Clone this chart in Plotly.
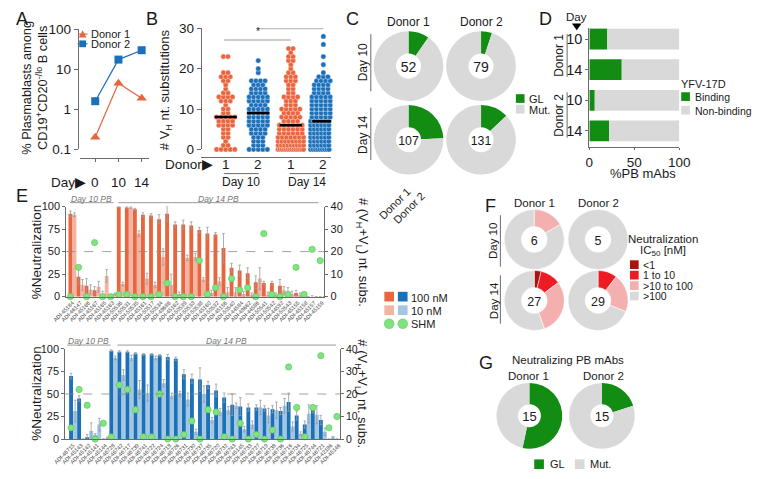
import plotly.graph_objects as go

W, H = 757, 479
FONT = "Liberation Sans, Arial, Helvetica, sans-serif"
TXT = "#1a1a1a"
AX = "#6b6b6b"
ORANGE = "#E8653E"
ORANGE_L = "#F3B4A4"
BLUE = "#1B70B9"
BLUE_L = "#A3C6E1"
GREEN = "#128C12"
GREY = "#D9D9D9"
SHM_C = "#7FE47F"
F_COLORS = ["#A8140F", "#EC1C24", "#F4AFAF", "#D9D9D9"]

# ---------------- data ----------------
# A
a_days = ["0", "10", "14"]
a_donor1 = [0.2, 4.5, 1.9]
a_donor2 = [1.6, 17.5, 30]

# B  (counts of clones per number of VH substitutions, value = index 0..28)
b_groups = ["1", "2", "1", "2"]
b_counts_d1_day10 = [5, 2, 1, 2, 2, 2, 4, 4, 5, 2, 2, 1, 3, 4, 2, 1, 1, 2, 3, 2, 0, 0, 0, 2, 0, 0, 0, 0, 0]
b_counts_d2_day10 = [5, 3, 3, 3, 4, 4, 5, 5, 5, 5, 5, 4, 5, 5, 4, 4, 3, 4, 0, 1, 1, 0, 1, 0, 0, 0, 0, 0, 0]
b_counts_d1_day14 = [14, 9, 8, 7, 6, 6, 6, 4, 5, 4, 5, 3, 3, 4, 2, 2, 2, 3, 3, 2, 1, 1, 2, 2, 1, 2, 0, 0, 0]
b_counts_d2_day14 = [12, 8, 8, 8, 8, 8, 8, 8, 6, 6, 6, 6, 6, 6, 5, 5, 5, 4, 3, 1, 0, 1, 0, 1, 0, 0, 1, 0, 1]

# C
c_total = [[52, 79], [107, 131]]
c_gl = [[5, 4], [26, 17]]

# D
d_days = ["10", "14", "10", "14"]
d_binding = [20, 36, 6, 22]

# E (donor 1)
e1_labels = ["ADI-45184", "ADI-46147", "ADI-45166", "ADI-45167", "ADI-45165", "ADI-45163",
             "ADI-50536", "ADI-50531", "ADI-50535", "ADI-45161", "ADI-50517", "ADI-50534",
             "ADI-48686", "ADI-45162", "ADI-50539", "ADI-50533", "ADI-50538", "ADI-45160",
             "ADI-50532", "ADI-45156", "ADI-50540", "ADI-44584", "ADI-48662", "ADI-44586",
             "ADI-50541", "ADI-50542", "ADI-44592", "ADI-50543", "ADI-45155", "ADI-45158",
             "ADI-45157", "ADI-45159"]
e1_100nM = [92, 22, 12, 7, 3, 0, 100, 99, 97, 91, 90, 86, 92, 80, 80, 79, 74, 70, 69, 54, 32, 29, 26, 16, 15, 15, 12, 5, 4, 0, 0, 0]
e1_100nM_err = [3, 8, 8, 4, 3, 0, 1, 1, 1, 2, 2, 5, 8, 3, 5, 4, 3, 7, 2, 16, 5, 6, 6, 7, 2, 2, 7, 5, 3, 0, 1, 0]
e1_10nM = [91, 13, 8, 11, 23, 3, 14, 99, 70, 20, 13, 44, 13, 3, 43, 44, 19, 4, 17, 5, 5, 3, 2, 20, 2, 2, 7, 3, 2, 0, 0, 0]
e1_10nM_err = [2, 6, 5, 6, 7, 1, 2, 1, 3, 6, 3, 9, 12, 2, 3, 4, 2, 3, 4, 5, 5, 3, 2, 12, 3, 2, 4, 3, 2, 0, 0, 0]
e1_shm = [0, 13, 0, 24, 0, 0, 1, 1, 0, 0, 0, 1, 6, 0, 0, 0, 16, 1, 4, 0, 8, 3, 4, 0, 28, 1, 0, 1, 13, 1, 21, 16]

# E (donor 2)
e2_labels = ["ADI-46715", "ADI-45143", "ADI-45142", "ADI-45141", "ADI-45144", "ADI-46728",
             "ADI-46742", "ADI-46717", "ADI-46739", "ADI-46741", "ADI-46722", "ADI-46724",
             "ADI-46718", "ADI-46726", "ADI-46731", "ADI-46730", "ADI-46737", "ADI-46735",
             "ADI-46720", "ADI-46732", "ADI-46743", "ADI-45145", "ADI-46733", "ADI-46727",
             "ADI-46719", "ADI-46738", "ADI-46736", "ADI-46716", "ADI-46734", "ADI-46725",
             "ADI-46744", "ADI-46721", "ADI-42186", "ADI-45146"]
e2_100nM = [70, 45, 2, 4, 0, 98, 97, 97, 95, 94, 94, 93, 91, 89, 72, 67, 66, 60, 54, 46, 38, 36, 35, 35, 34, 33, 31, 41, 26, 16, 33, 21, 0, 0]
e2_100nM_err = [3, 3, 3, 2, 0, 1, 1, 1, 1, 1, 1, 1, 3, 2, 5, 5, 13, 4, 7, 5, 12, 10, 4, 3, 3, 4, 4, 10, 5, 4, 4, 5, 0, 0]
e2_10nM = [31, 0, 9, 16, 1, 90, 71, 90, 55, 51, 90, 62, 48, 50, 44, 8, 50, 21, 30, 32, 37, 11, 16, 35, 26, 32, 37, 14, 6, 28, 27, 8, 2, 0]
e2_10nM_err = [12, 0, 9, 7, 1, 2, 6, 3, 10, 9, 2, 4, 3, 3, 7, 3, 9, 3, 4, 4, 3, 3, 4, 8, 8, 9, 8, 5, 2, 10, 10, 4, 1, 0]
e2_shm = [5, 22, 15, 0, 7, 1, 24, 22, 13, 1, 1, 20, 0, 0, 2, 8, 0, 13, 12, 1, 0, 7, 0, 2, 0, 4, 0, 32, 14, 1, 14, 37, 5, 10]

# F  (counts per IC50 class: <1, 1 to 10, >10 to 100, >100)
f_classes = ["<1", "1 to 10", ">10 to 100", ">100"]
f_counts = [[[0, 0, 1, 5], [0, 0, 0, 5]],
            [[1, 3, 8, 15], [0, 3, 6, 20]]]

# G
g_total = [15, 15]
g_gl = [8, 3]


# ---------------- helpers ----------------
def X(p):
    return p / W


def Y(p):
    return 1 - p / H


annotations = []
shapes = []


def txt(x, y, s, size=12, xa="center", ya="middle", angle=0, color=TXT):
    annotations.append(dict(x=X(x), y=Y(y), xref="paper", yref="paper", text=s, showarrow=False,
                            xanchor=xa, yanchor=ya, textangle=angle,
                            font=dict(size=size, color=color, family=FONT)))


def line(x0, y0, x1, y1, color=AX, width=1, dash=None):
    shapes.append(dict(type="line", xref="paper", yref="paper", x0=X(x0), y0=Y(y0), x1=X(x1), y1=Y(y1),
                       line=dict(color=color, width=width, dash=dash)))


def square(x, y, s, color):
    shapes.append(dict(type="rect", xref="paper", yref="paper", x0=X(x), x1=X(x + s), y0=Y(y + s), y1=Y(y),
                       fillcolor=color, line=dict(width=0)))


def circle(cx, cy, r, color, lc):
    shapes.append(dict(type="circle", xref="paper", yref="paper", x0=X(cx - r), x1=X(cx + r),
                       y0=Y(cy + r), y1=Y(cy - r), fillcolor=color, line=dict(width=0.6, color=lc)))


def fnt(size):
    return dict(size=size, color=TXT, family=FONT)


def ax_style(**kw):
    d = dict(showline=True, linecolor=AX, linewidth=1, ticks="outside", tickcolor=AX, ticklen=4, tickwidth=1,
             showgrid=False, zeroline=False, tickfont=fnt(13))
    d.update(kw)
    return d


fig = go.Figure()

# ---------------- A ----------------
fig.add_trace(go.Scatter(x=[0, 1, 2], y=a_donor1, mode="lines+markers", xaxis="x", yaxis="y",
                         line=dict(color=ORANGE, width=1.2), marker=dict(symbol="triangle-up", size=9, color=ORANGE),
                         cliponaxis=False))
fig.add_trace(go.Scatter(x=[0, 1, 2], y=a_donor2, mode="lines+markers", xaxis="x", yaxis="y",
                         line=dict(color=BLUE, width=1.2), marker=dict(symbol="square", size=8, color=BLUE),
                         cliponaxis=False))
txt(8, 12, "A", 18)
txt(22, 83, "% Plasmablasts among<br>CD19<sup>+</sup>CD20<sup>-/lo</sup> B cells", 12.8, angle=-90)
txt(77, 181, "Day▶", 13.5, xa="right")
for i, d in enumerate(a_days):
    annotations.append(dict(x=i, y=Y(181), xref="x", yref="paper", text=d, showarrow=False,
                            xanchor="center", yanchor="middle", font=fnt(13.5)))
# legend A
line(66, 28, 76, 28, ORANGE, 1.2)
shapes.append(dict(type="path", xref="paper", yref="paper",
                   path=f"M {X(67)},{Y(31.5)} L {X(75)},{Y(31.5)} L {X(71)},{Y(24)} Z",
                   fillcolor=ORANGE, line=dict(width=0)))
txt(78, 28, "Donor 1", 11, xa="left")
line(66, 38, 76, 38, BLUE, 1.2)
square(67.5, 34.5, 7, BLUE)
txt(78, 38, "Donor 2", 11, xa="left")

# ---------------- B ----------------
b_all = [b_counts_d1_day10, b_counts_d2_day10, b_counts_d1_day14, b_counts_d2_day14]
b_colors = [ORANGE, BLUE, ORANGE, BLUE]
for g, counts in enumerate(b_all):
    xs, ys, vals = [], [], []
    for v, n in enumerate(counts):
        if n == 0:
            continue
        s = 0.14 if n == 1 else min(0.14, 0.78 / (n - 1))
        for k in range(n):
            xs.append(g + (k - (n - 1) / 2) * s)
            ys.append(v)
            vals.append(v)
    vals.sort()
    m = len(vals)
    med = vals[m // 2] if m % 2 else (vals[m // 2 - 1] + vals[m // 2]) / 2
    fig.add_trace(go.Scatter(x=xs, y=ys, mode="markers", xaxis="x2", yaxis="y2",
                             marker=dict(size=5.2, color=b_colors[g], line=dict(width=0.4, color="white")),
                             cliponaxis=False))
    shapes.append(dict(type="line", xref="x2", yref="y2", x0=g - 0.34, x1=g + 0.34, y0=med, y1=med,
                       line=dict(color="black", width=2.5)))
for i, d in enumerate(b_groups):
    annotations.append(dict(x=i, y=Y(163), xref="x2", yref="paper", text=d, showarrow=False,
                            xanchor="center", yanchor="middle", font=fnt(13.5)))
txt(143, 12, "B", 18)
txt(157, 85, "# V<sub>H</sub> nt. substitutions", 13, angle=-90)
txt(208, 163, "Donor▶", 13.5, xa="right")
line(217, 172, 253, 172, AX)
line(285, 172, 322, 172, AX)
txt(235, 181, "Day 10", 12)
txt(303, 181, "Day 14", 12)
shapes.append(dict(type="line", xref="x2", yref="y2", x0=-0.05, x1=2.0, y0=27.1, y1=27.1, line=dict(color="#999", width=1)))
shapes.append(dict(type="line", xref="x2", yref="y2", x0=1.0, x1=3.0, y0=29.9, y1=29.9, line=dict(color="#999", width=1)))
annotations.append(dict(x=1, y=27.4, xref="x2", yref="y2", text="*", showarrow=False, yanchor="bottom",
                        font=fnt(10)))
annotations.append(dict(x=1.97, y=30.2, xref="x2", yref="y2", text="**", showarrow=False, yanchor="bottom",
                        font=fnt(10)))

# ---------------- C ----------------
c_cx = [408, 483]
c_cy = [61, 137]
c_r = 36
for i in range(2):
    for j in range(2):
        cx, cy = c_cx[j], c_cy[i]
        fig.add_trace(go.Pie(values=[c_gl[i][j], c_total[i][j] - c_gl[i][j]], labels=["GL", "Mut."],
                             marker=dict(colors=[GREEN, GREY], line=dict(width=0)), hole=0.36, sort=False,
                             direction="counterclockwise", textinfo="none", hoverinfo="skip",
                             domain=dict(x=[X(cx - c_r), X(cx + c_r)], y=[Y(cy + c_r), Y(cy - c_r)]),
                             title=dict(text=str(c_total[i][j]), font=fnt(14))))
txt(350, 12, "C", 18)
txt(408, 16, "Donor 1", 12)
txt(483, 16, "Donor 2", 12)
txt(361, 57, "Day 10", 12, angle=-90)
line(369, 28, 369, 87)
txt(361, 132, "Day 14", 12, angle=-90)
line(369, 104, 369, 158)
square(519, 90, 9, GREEN)
txt(531, 95, "GL", 11, xa="left")
square(519, 101, 9, GREY)
txt(531, 106, "Mut.", 11, xa="left")

# ---------------- D ----------------
d_nonbinding = [100 - v for v in d_binding]
fig.add_trace(go.Bar(y=[0, 1, 2, 3], x=d_binding, orientation="h", xaxis="x3", yaxis="y3", width=0.68,
                     marker=dict(color=GREEN, line=dict(width=0))))
fig.add_trace(go.Bar(y=[0, 1, 2, 3], x=d_nonbinding, base=d_binding, orientation="h", xaxis="x3", yaxis="y3",
                     width=0.68, marker=dict(color=GREY, line=dict(width=0))))
txt(550, 12, "D", 18)
txt(582, 10, "Day", 11.5)
shapes.append(dict(type="path", xref="paper", yref="paper",
                   path=f"M {X(577)},{Y(17)} L {X(587)},{Y(17)} L {X(582)},{Y(24)} Z",
                   fillcolor="black", line=dict(width=0)))
txt(564, 50, "Donor 1", 12, angle=-90)
line(572, 28, 572, 72)
txt(564, 112, "Donor 2", 12, angle=-90)
line(572, 88, 572, 135)
txt(650, 172, "%PB mAbs", 13)
txt(688, 80, "YFV-17D", 11, xa="left")
square(690, 88, 9, GREEN)
txt(702, 93, "Binding", 10.5, xa="left")
square(690, 102, 9, GREY)
txt(702, 107, "Non-binding", 10.5, xa="left")

# ---------------- E ----------------
err_style = dict(type="data", color="#9a9a9a", thickness=0.8, width=1.3)
for (labels, v100, e100, v10, e10, shm, xa, ya, ya2, c1, c2) in [
        (e1_labels, e1_100nM, e1_100nM_err, e1_10nM, e1_10nM_err, e1_shm, "x4", "y4", "y5", ORANGE, ORANGE_L),
        (e2_labels, e2_100nM, e2_100nM_err, e2_10nM, e2_10nM_err, e2_shm, "x6", "y6", "y7", BLUE, BLUE_L)]:
    idx = list(range(len(labels)))
    fig.add_trace(go.Bar(x=idx, y=v10, xaxis=xa, yaxis=ya, width=0.48, offset=0.26,
                         marker=dict(color=c2, line=dict(width=0)), error_y=dict(array=e10, **err_style),
                         cliponaxis=False))
    fig.add_trace(go.Bar(x=idx, y=v100, xaxis=xa, yaxis=ya, width=0.48, offset=-0.24,
                         marker=dict(color=c1, line=dict(width=0)), error_y=dict(array=e100, **err_style),
                         cliponaxis=False))
    fig.add_trace(go.Scatter(x=idx, y=shm, xaxis=xa, yaxis=ya2, mode="markers",
                             marker=dict(size=6.3, color=SHM_C, line=dict(width=0.6, color="#5BC45B")),
                             cliponaxis=False))
    shapes.append(dict(type="line", xref=f"{xa} domain", yref=ya, x0=0, x1=1, y0=50, y1=50,
                       line=dict(color="#8a8a8a", width=0.8, dash="dash")))

txt(8, 195, "E", 18)
for (yc, xr, ytop, x10a, x10b, x14a, x14b) in [(253, 361, 202, 58, 103, 108, 315),
                                              (399, 359, 349, 55, 100, 107, 333)]:
    txt(23, yc, "%Neutralization", 13.5, angle=-90)
    txt(xr, yc, "# (V<sub>H</sub>+V<sub>L</sub>) nt. subs.", 13, angle=90)
    line(x10a, ytop, x10b, ytop, "#9a9a9a", 1)
    line(x14a, ytop, x14b, ytop, "#9a9a9a", 1)
    txt((x10a + x10b) / 2, ytop - 4, "<i>Day 10 PB</i>", 8.5, color="#777")
    txt((x14a + x14b) / 2, ytop - 4, "<i>Day 14 PB</i>", 8.5, color="#777")

# legend E
txt(393, 203, "Donor 1", 11, angle=-45)
txt(408, 207, "Donor 2", 11, angle=-45)
square(383, 294, 10, ORANGE)
square(397, 294, 10, BLUE)
txt(409, 300, "100 nM", 11, xa="left")
square(383, 308, 10, ORANGE_L)
square(397, 308, 10, BLUE_L)
txt(409, 314, "10 nM", 11, xa="left")
circle(388, 327, 5, SHM_C, "#5BC45B")
circle(402, 327, 5, SHM_C, "#5BC45B")
txt(409, 327, "SHM", 11, xa="left")

# ---------------- F ----------------
f_cx = [538, 604]
f_cy = [240, 303]
f_r = 31
for i in range(2):
    for j in range(2):
        cx, cy = f_cx[j], f_cy[i]
        fig.add_trace(go.Pie(values=f_counts[i][j], labels=f_classes,
                             marker=dict(colors=F_COLORS, line=dict(width=0.5, color="white")), hole=0.43,
                             sort=False, direction="clockwise", textinfo="none", hoverinfo="skip",
                             domain=dict(x=[X(cx - f_r), X(cx + f_r)], y=[Y(cy + f_r), Y(cy - f_r)]),
                             title=dict(text=str(sum(f_counts[i][j])), font=fnt(12.5))))
txt(493, 205, "F", 18)
txt(538, 202, "Donor 1", 11.5)
txt(604, 202, "Donor 2", 11.5)
txt(496, 242, "Day 10", 11.5, angle=-90)
line(503, 215, 503, 268)
txt(496, 303, "Day 14", 11.5, angle=-90)
line(503, 277, 503, 327)
txt(671, 240, "Neutralization", 11.5)
txt(671, 252, "IC<sub>50</sub> [nM]", 11.5)
for k, (lab, col) in enumerate(zip(f_classes, F_COLORS)):
    yy = 266 + k * 10.8
    square(637, yy - 4.5, 9, col)
    txt(648, yy, lab.replace("<", "&lt;").replace(">", "&gt;"), 10.5, xa="left")

# ---------------- G ----------------
g_cx = [533, 608]
g_cy = 422
g_r = 34
for j in range(2):
    cx = g_cx[j]
    fig.add_trace(go.Pie(values=[g_gl[j], g_total[j] - g_gl[j]], labels=["GL", "Mut."],
                         marker=dict(colors=[GREEN, GREY], line=dict(width=0)), hole=0.35, sort=False,
                         direction="counterclockwise", textinfo="none", hoverinfo="skip",
                         domain=dict(x=[X(cx - g_r), X(cx + g_r)], y=[Y(g_cy + g_r), Y(g_cy - g_r)]),
                         title=dict(text=str(g_total[j]), font=fnt(13))))
txt(488, 367, "G", 18)
txt(573, 364, "Neutralizing PB mAbs", 11.5)
txt(532, 381, "Donor 1", 11.5)
txt(610, 381, "Donor 2", 11.5)
square(538, 467, 10, GREEN)
txt(552, 472, "GL", 11, xa="left")
square(580, 467, 10, GREY)
txt(594, 472, "Mut.", 11, xa="left")

# ---------------- layout ----------------
small_tick = dict(size=5.5, color="#333", family=FONT)
fig.update_layout(
    width=W, height=H, margin=dict(l=0, r=0, t=0, b=0), paper_bgcolor="white", plot_bgcolor="white",
    showlegend=False, barmode="overlay", font=dict(family=FONT, color=TXT),
    xaxis=ax_style(domain=[X(68), X(140)], range=[-0.667, 2.333], tickvals=[0, 1, 2], showticklabels=False,
                   anchor="free", position=Y(156), ticklen=3),
    yaxis=ax_style(domain=[Y(147), Y(23)], type="log", range=[-1, 2], tickvals=[0.1, 1, 10, 100],
                   ticktext=["0.1", "1", "10", "100"], anchor="free", position=X(66), tickfont=fnt(13.5)),
    xaxis2=ax_style(domain=[X(193), X(328)], range=[-0.77, 3.24], tickvals=[0, 1, 2, 3], showticklabels=False,
                    anchor="free", position=Y(155), ticks=""),
    yaxis2=ax_style(domain=[Y(147), Y(22)], range=[0, 30], tickvals=[0, 10, 20, 30], anchor="free", position=X(193),
                    tickfont=fnt(13.5)),
    xaxis3=ax_style(domain=[X(595), X(688)], range=[0, 100], tickvals=[0, 50, 100], anchor="y3", ticklen=2,
                    tickfont=fnt(13.5)),
    yaxis3=ax_style(domain=[Y(145), Y(22)], range=[3.54, -0.35], tickvals=[0, 1, 2, 3], ticktext=d_days, anchor="x3",
                    ticklen=3, tickfont=fnt(14.5)),
    xaxis4=ax_style(domain=[X(54), X(321)], range=[-0.52, len(e1_labels) - 0.48],
                    tickvals=[i + 0.25 for i in range(len(e1_labels))], ticktext=e1_labels, tickangle=-45,
                    ticks="", tickfont=small_tick, anchor="y4"),
    yaxis4=ax_style(domain=[Y(299), Y(206)], range=[0, 100], tickvals=[0, 25, 50, 75, 100], anchor="x4",
                    ticklen=3, tickfont=fnt(11)),
    yaxis5=ax_style(overlaying="y4", side="right", anchor="x4", range=[0, 40], tickvals=[0, 10, 20, 30, 40],
                    ticklen=3, tickfont=fnt(11)),
    xaxis6=ax_style(domain=[X(53), X(337)], range=[-0.72, len(e2_labels) - 0.64],
                    tickvals=[i + 0.25 for i in range(len(e2_labels))], ticktext=e2_labels, tickangle=-45,
                    ticks="", tickfont=small_tick, anchor="y6"),
    yaxis6=ax_style(domain=[Y(446), Y(353)], range=[0, 100], tickvals=[0, 25, 50, 75, 100], anchor="x6",
                    ticklen=3, tickfont=fnt(11)),
    yaxis7=ax_style(overlaying="y6", side="right", anchor="x6", range=[0, 40], tickvals=[0, 10, 20, 30, 40],
                    ticklen=3, tickfont=fnt(10.5)),
    annotations=annotations, shapes=shapes,
)

fig.write_html("out.html", config={"displayModeBar": False},
               post_script="document.body.style.margin='0';document.body.style.overflow='hidden';")
